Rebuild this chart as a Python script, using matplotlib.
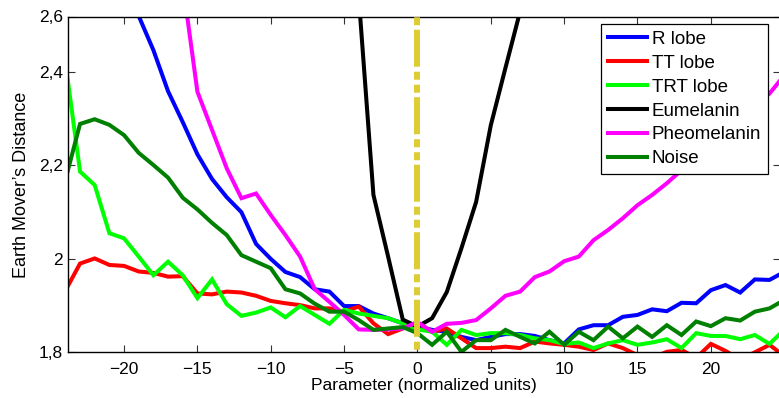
import numpy as np
import matplotlib
matplotlib.use("Agg")
import matplotlib.pyplot as plt

plt.rcParams['font.family'] = ['Liberation Sans', 'DejaVu Sans']
plt.rcParams['lines.scale_dashes'] = False

nan = np.nan
params = list(range(-24, 26))

r_lobe = [nan, nan, nan, nan, 2.65, 2.52, 2.447, 2.359, 2.293, 2.224,
          2.171, 2.132, 2.100, 2.032, 2.000, 1.972, 1.961, 1.935, 1.930, 1.899,
          1.899, 1.883, 1.873, 1.862, 1.855, 1.848, 1.844, 1.833, 1.826, 1.833,
          1.839, 1.839, 1.835, 1.826, 1.819, 1.849, 1.858, 1.858, 1.876, 1.880,
          1.892, 1.888, 1.906, 1.905, 1.933, 1.944, 1.928, 1.956, 1.955, 1.972]

tt_lobe = [1.932, 1.990, 2.001, 1.987, 1.985, 1.973, 1.970, 1.962, 1.963, 1.926,
           1.924, 1.930, 1.928, 1.921, 1.910, 1.905, 1.901, 1.894, 1.894, 1.887,
           1.898, 1.862, 1.839, 1.851, 1.862, 1.844, 1.851, 1.830, 1.809, 1.809,
           1.812, 1.809, 1.823, 1.819, 1.816, 1.812, 1.805, 1.819, 1.809, 1.794,
           1.788, 1.801, 1.805, 1.788, 1.818, 1.803, 1.784, 1.800, 1.816, 1.792]

trt_lobe = [2.421, 2.187, 2.158, 2.055, 2.044, 2.005, 1.965, 1.994, 1.965, 1.916,
            1.956, 1.903, 1.878, 1.885, 1.896, 1.875, 1.899, 1.880, 1.861, 1.891,
            1.883, 1.878, 1.873, 1.862, 1.849, 1.844, 1.816, 1.848, 1.837, 1.841,
            1.841, 1.837, 1.830, 1.826, 1.818, 1.821, 1.809, 1.819, 1.826, 1.816,
            1.821, 1.828, 1.809, 1.841, 1.835, 1.835, 1.828, 1.837, 1.818, 1.848]

eumelanin = [nan] * 19 + [3.0, 2.56, 2.137, 2.005, 1.870, 1.855, 1.873, 1.929,
                          2.023, 2.122, 2.286, 2.409, 2.53, 2.66] + [nan] * 17

pheomelanin = [nan] * 7 + [2.85, 2.59, 2.358, 2.276, 2.194, 2.130, 2.140, 2.094,
                           2.051, 2.005, 1.935, 1.908, 1.880, 1.849, 1.848, 1.849,
                           1.851, 1.865, 1.844, 1.861, 1.863, 1.869, 1.894, 1.921,
                           1.930, 1.961, 1.973, 1.995, 2.005, 2.040, 2.062, 2.087,
                           2.115, 2.137, 2.162, 2.190, 2.218, 2.248, 2.276, 2.304,
                           2.330, 2.354, 2.393]

noise = [2.169, 2.289, 2.299, 2.287, 2.265, 2.227, 2.201, 2.174, 2.131, 2.106,
         2.077, 2.051, 2.008, 1.994, 1.980, 1.935, 1.926, 1.904, 1.887, 1.887,
         1.869, 1.848, 1.851, 1.854, 1.841, 1.816, 1.844, 1.801, 1.826, 1.826,
         1.848, 1.833, 1.819, 1.844, 1.816, 1.844, 1.826, 1.855, 1.830, 1.855,
         1.833, 1.858, 1.837, 1.866, 1.856, 1.873, 1.868, 1.887, 1.894, 1.912]

true_param = 0.0

series_names = ['R lobe', 'TT lobe', 'TRT lobe', 'Eumelanin', 'Pheomelanin', 'Noise']
series_values = [r_lobe, tt_lobe, trt_lobe, eumelanin, pheomelanin, noise]
series_colors = ['#0000FF', '#FF0000', '#00FF00', '#000000', '#FF00FF', '#008000']

ytick_vals = [1.8, 2.0, 2.2, 2.4, 2.519]
ytick_labels = ['1,8', '2', '2,2', '2,4', '2,6']
xtick_vals = [-20, -15, -10, -5, 0, 5, 10, 15, 20]
xtick_labels = ['\u221220', '\u221215', '\u221210', '\u22125', '0', '5', '10', '15', '20']

W, H = 779, 398
fig = plt.figure(figsize=(W / 100, H / 100), dpi=100)
left, right, top, bottom = 68.3, 779.5, 16.5, 352.3
ax = fig.add_axes([left / W, 1 - bottom / H, (right - left) / W, (bottom - top) / H])

for name, vals, col in zip(series_names, series_values, series_colors):
    ax.plot(params, vals, color=col, lw=2.9, label=name, solid_joinstyle='miter')

ax.axvline(true_param, color='#DDCC33', lw=4.3, zorder=10,
           dash_capstyle='butt',
           linestyle=(37.6, (26.64, 3.24, 5.76, 3.6, 5.76, 3.6)))

ax.set_xlim(-23.8, 24.68)
ax.set_ylim(1.8, 2.519)
ax.set_xticks(xtick_vals)
ax.set_xticklabels(xtick_labels)
ax.set_yticks(ytick_vals)
ax.set_yticklabels(ytick_labels)
ax.tick_params(direction='in', length=5, width=0.8, top=True, right=True,
               labelsize=12.5, color='#333333')
ax.tick_params(axis='x', pad=7)
ax.tick_params(axis='y', pad=4)
for s in ax.spines.values():
    s.set_linewidth(1.0)
    s.set_color('black')

ax.set_xlabel('Parameter (normalized units)', fontsize=12.6, labelpad=1)
ax.set_ylabel('Earth Mover\u2019s Distance', fontsize=13, labelpad=6)

leg = ax.legend(loc='upper right',
                bbox_to_anchor=((768 - left) / (right - left), 1 - (24 - top) / (bottom - top)),
                borderaxespad=0, fontsize=13.5, frameon=True, fancybox=False,
                framealpha=1, edgecolor='black', handlelength=2.08,
                handletextpad=0.25, labelspacing=0.36, borderpad=0.36)
leg.get_frame().set_linewidth(0.9)
leg.set_zorder(20)

fig.savefig('out.png', dpi=100)
